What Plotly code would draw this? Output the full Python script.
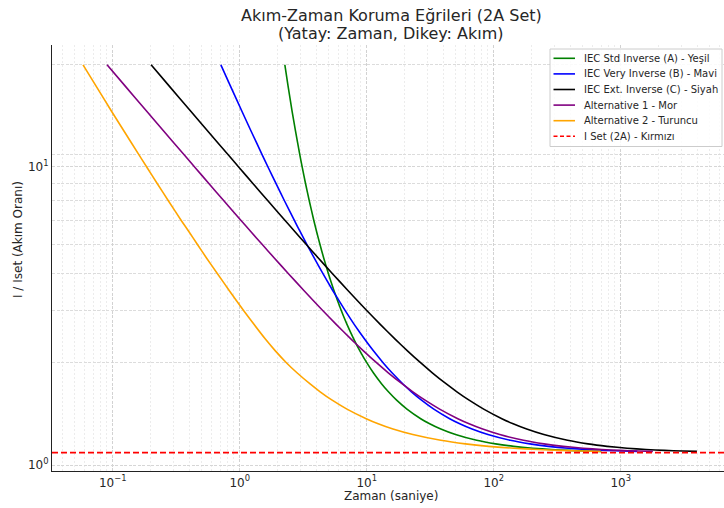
import plotly.graph_objects as go

# ---- data ----
# current ratio values (I / Iset) shared by all curves
Y_RATIO = [22, 18.7, 15.4, 13.2, 11, 9.9, 8.8, 7.7, 6.6, 6.05, 5.5, 4.95, 4.4, 3.85, 3.3, 2.97, 2.64, 2.42,
           2.2, 2.035, 1.87, 1.76, 1.65, 1.54, 1.43, 1.375, 1.32, 1.265, 1.21, 1.177, 1.155, 1.1385, 1.1275,
           1.1198, 1.1143, 1.111]
# operating times (s) for each curve
T_GREEN = [2.267, 2.401, 2.583, 2.748, 2.971, 3.116, 3.297, 3.528, 3.837, 4.037, 4.280, 4.584, 4.980, 5.518,
           6.302, 6.978, 7.926, 8.808, 10.03, 11.31, 13.12, 14.82, 17.19, 20.73, 26.61, 31.30, 38.32, 50.02,
           73.37, 103.4, 143.4, 203.4, 283.5, 392.3, 541.8, 703.4]
T_BLUE = [0.7105, 0.8438, 1.0385, 1.2273, 1.5, 1.6875, 1.9286, 2.25, 2.7, 3.0, 3.375, 3.857, 4.5, 5.4, 6.75,
          7.941, 9.643, 11.25, 13.5, 15.88, 19.29, 22.5, 27.0, 33.75, 45.0, 54.0, 67.5, 90.0, 135, 192.9, 270,
          385.7, 540, 750, 1038, 1350]
T_BLACK = [0.2005, 0.2778, 0.4103, 0.5594, 0.8081, 1.0, 1.2698, 1.6667, 2.2857, 2.735, 3.3333, 4.1558, 5.3333,
           7.1111, 10.0, 12.72, 16.81, 20.83, 26.67, 33.02, 42.33, 51.28, 64.0, 83.33, 115.9, 142.2, 181.8,
           248.1, 381.0, 552.1, 780.5, 1123, 1580, 2202, 3057, 3980]
T_PURPLE = [0.0902, 0.125, 0.1846, 0.2517, 0.3636, 0.45, 0.5714, 0.75, 1.0286, 1.2308, 1.5, 1.8701, 2.4, 3.2,
            4.5, 5.723, 7.563, 9.375, 12.0, 14.86, 19.05, 23.08, 28.8, 37.5, 52.17, 64.0, 81.82, 111.6, 171.4,
            248.4, 351.2, 505.4, 711.1, 991.1, 1376, 1791]
T_ORANGE = [0.0584, 0.0738, 0.0976, 0.1226, 0.1606, 0.1879, 0.224, 0.2741, 0.3474, 0.3998, 0.4633, 0.5475,
            0.6638, 0.8263, 1.0725, 1.29, 1.598, 1.90, 2.34, 2.838, 3.582, 4.298, 5.343, 6.989, 9.908, 12.31,
            16.10, 23.06, 38.28, 59.8, 91.0, 143.8, 221.3, 333.7, 501.1, 696]
ISET_RATIO = 1.1

NAMES = ["IEC Std Inverse (A) - Yeşil", "IEC Very Inverse (B) - Mavi", "IEC Ext. Inverse (C) - Siyah",
         "Alternative 1 - Mor", "Alternative 2 - Turuncu"]
ISET_NAME = "I Set (2A) - Kırmızı"
COLORS = ["#008000", "#0000ff", "#000000", "#800080", "#ffa500"]
ISET_COLOR = "#ff0000"
SERIES = [T_GREEN, T_BLUE, T_BLACK, T_PURPLE, T_ORANGE]

TITLE_LINES = ["Akım-Zaman Koruma Eğrileri (2A Set)", "(Yatay: Zaman, Dikey: Akım)"]
X_TITLE = "Zaman (saniye)"
Y_TITLE = "I / Iset (Akım Oranı)"
X_TICKS = [0.1, 1, 10, 100, 1000]
X_TICKTEXT = ["10<sup>−1</sup>", "10<sup>0</sup>", "10<sup>1</sup>", "10<sup>2</sup>", "10<sup>3</sup>"]
Y_TICKS = [1, 10]
Y_TICKTEXT = ["10<sup>0</sup>", "10<sup>1</sup>"]
Y_MINOR = [2.2, 3.3, 4.4, 5.5, 6.6, 7.7, 8.8, 11, 22]

FONT = "DejaVu Sans"
TXT = "#262626"
W, H = 724, 508
ML, MR, MT, MB = 52, 0, 45, 37
PW, PH = W - ML - MR, H - MT - MB


def px_x(px):
    return (px - ML) / PW


def px_y(py):
    return (H - MB - py) / PH


fig = go.Figure()
for name, t, c in zip(NAMES, SERIES, COLORS):
    fig.add_trace(go.Scatter(x=t, y=Y_RATIO, mode="lines", name=name,
                             line=dict(color=c, width=1.6, shape="spline", smoothing=0.5),
                             showlegend=False))

# I set horizontal line across the axes
fig.add_shape(type="line", xref="paper", x0=0, x1=1, yref="y", y0=ISET_RATIO, y1=ISET_RATIO,
              line=dict(color=ISET_COLOR, width=1.6, dash="6px,3px"))

x_minor = [k * 10 ** n for n in range(-2, 4) for k in range(2, 10)]

# manual legend (matplotlib-like compact legend)
fig.add_shape(type="rect", xref="paper", yref="paper",
              x0=px_x(550), x1=px_x(722), y0=px_y(146.5), y1=px_y(49),
              fillcolor="rgba(255,255,255,0.85)", line=dict(color="#cccccc", width=1))
leg_rows = [58.3, 73.9, 89.5, 105.1, 120.7, 136.3]
entries = list(zip(NAMES, COLORS)) + [(ISET_NAME, ISET_COLOR)]
for i, (name, c) in enumerate(entries):
    yy = px_y(leg_rows[i])
    fig.add_shape(type="line", xref="paper", yref="paper", x0=px_x(553.5), x1=px_x(575), y0=yy, y1=yy,
                  line=dict(color=c, width=1.6, dash="4px,2.5px" if i == len(entries) - 1 else "solid"))
    fig.add_annotation(xref="paper", yref="paper", x=px_x(582), y=yy, text=name, showarrow=False,
                       xanchor="left", yanchor="middle", font=dict(family=FONT, size=10, color=TXT))

# title lines and axis titles as annotations
fig.add_annotation(xref="paper", yref="paper", x=px_x(391), y=px_y(15), text=TITLE_LINES[0],
                   showarrow=False, xanchor="center", yanchor="middle",
                   font=dict(family=FONT, size=16, color=TXT))
fig.add_annotation(xref="paper", yref="paper", x=px_x(391), y=px_y(34), text=TITLE_LINES[1],
                   showarrow=False, xanchor="center", yanchor="middle",
                   font=dict(family=FONT, size=16, color=TXT))
fig.add_annotation(xref="paper", yref="paper", x=px_x(391), y=px_y(496), text=X_TITLE,
                   showarrow=False, xanchor="center", yanchor="middle",
                   font=dict(family=FONT, size=12, color=TXT))
fig.add_annotation(xref="paper", yref="paper", x=px_x(18), y=px_y(240), text=Y_TITLE,
                   textangle=-90, showarrow=False, xanchor="center", yanchor="middle",
                   font=dict(family=FONT, size=12, color=TXT))

fig.update_layout(
    width=W, height=H,
    margin=dict(l=ML, r=MR, t=MT, b=MB),
    paper_bgcolor="white", plot_bgcolor="white",
    font=dict(family=FONT, size=12, color=TXT),
    xaxis=dict(type="log", range=[-1.478, 3.813], tickmode="array", tickvals=X_TICKS, ticktext=X_TICKTEXT,
               showline=True, linecolor="#222", linewidth=1.2, mirror=False, ticks="",
               showgrid=True, gridcolor="#d2d2d2", griddash="3px,1.5px", gridwidth=0.8, zeroline=False,
               tickfont=dict(family=FONT, size=12, color=TXT),
               minor=dict(tickmode="array", tickvals=x_minor, showgrid=True, gridcolor="#ececec",
                          griddash="2px,2px", gridwidth=0.8, ticks="")),
    yaxis=dict(type="log", range=[-0.0201, 1.409], tickmode="array", tickvals=Y_TICKS, ticktext=Y_TICKTEXT,
               showline=True, linecolor="#222", linewidth=1.2, mirror=False, ticks="",
               showgrid=True, gridcolor="#d6d6d6", griddash="3px,1.5px", gridwidth=0.8, zeroline=False,
               tickfont=dict(family=FONT, size=12, color=TXT),
               minor=dict(tickmode="array", tickvals=Y_MINOR, showgrid=True, gridcolor="#dcdcdc",
                          griddash="3px,1.5px", gridwidth=0.8, ticks="")),
)

fig.write_html("out.html", config={"displayModeBar": False},
               post_script="document.body.style.margin='0';document.body.style.overflow='hidden';")
